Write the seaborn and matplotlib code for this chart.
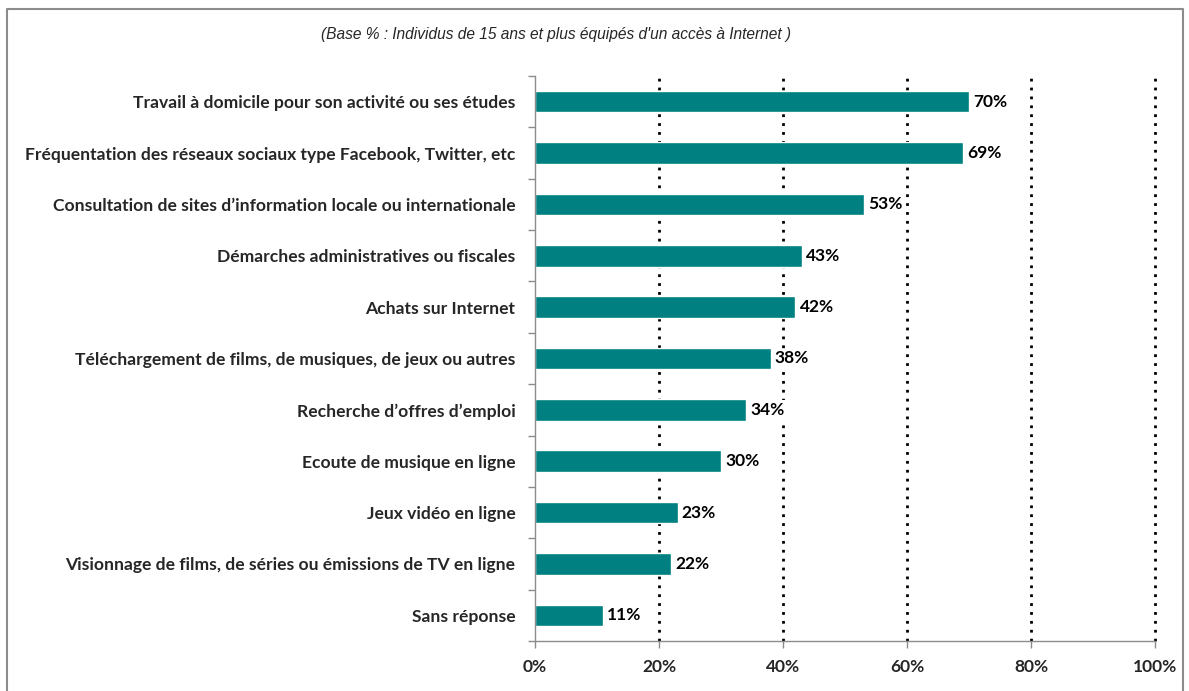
import matplotlib
matplotlib.use("Agg")
import matplotlib.pyplot as plt
import seaborn as sns
import pandas as pd

categories = [
    "Travail à domicile pour son activité ou ses études",
    "Fréquentation des réseaux sociaux type Facebook, Twitter, etc",
    "Consultation de sites d\u2019information locale ou internationale",
    "Démarches administratives ou fiscales",
    "Achats sur Internet",
    "Téléchargement de films, de musiques, de jeux ou autres",
    "Recherche d\u2019offres d\u2019emploi",
    "Ecoute de musique en ligne",
    "Jeux vidéo en ligne",
    "Visionnage de films, de séries ou émissions de TV en ligne",
    "Sans réponse",
]
values = [70, 69, 53, 43, 42, 38, 34, 30, 23, 22, 11]
xticks = [0, 20, 40, 60, 80, 100]
subtitle = "(Base % : Individus de 15 ans et plus équipés d'un accès à Internet )"

df = pd.DataFrame({"cat": categories, "val": values})

sns.set_style("white")
plt.rcParams["font.family"] = ["Lato", "DejaVu Sans"]

fig = plt.figure(figsize=(11.89, 6.91), dpi=100)
ax = fig.add_axes([535 / 1189, 1 - 641 / 691, 620 / 1189, 565 / 691])

sns.barplot(data=df, x="val", y="cat", color="#008080", saturation=1,
            width=0.42, ax=ax, orient="h")

ax.set_xlim(0, 100)
ax.set_ylim(len(categories) - 0.5, -0.5)
ax.set_xlabel("")
ax.set_ylabel("")

# dotted vertical gridlines
for t in xticks[1:]:
    ax.axvline(t, color="black", linestyle=(0, (1, 2.2)), linewidth=2,
               zorder=0, clip_on=False)

ax.set_xticks(xticks)
ax.set_xticklabels([f"{t}%" for t in xticks], fontsize=12.5, fontweight="bold")
ax.tick_params(axis="x", length=5, width=1, color="#8c8c8c", direction="out",
               pad=8, bottom=True)

ax.set_yticks(range(len(categories)))
ax.set_yticklabels(categories, fontsize=12.6, fontweight="bold")
ax.tick_params(axis="y", which="major", length=0, pad=14)
ax.set_yticks([i - 0.5 for i in range(len(categories) + 1)], minor=True)
ax.tick_params(axis="y", which="minor", length=5, width=1, color="#8c8c8c",
               direction="out", left=True)

for s in ["top", "right"]:
    ax.spines[s].set_visible(False)
for s in ["left", "bottom"]:
    ax.spines[s].set_color("#8c8c8c")
    ax.spines[s].set_linewidth(1)

for i, v in enumerate(values):
    ax.annotate(f"{v}%", xy=(v, i), xytext=(3, 0), textcoords="offset points",
                va="center", ha="left", fontsize=12.5, fontweight="bold",
                color="black",
                bbox=dict(boxstyle="square,pad=0.1", fc="white", ec="none"))

fig.text(556 / 1189, 1 - 35 / 691, subtitle, ha="center", va="center",
         fontsize=11.2, style="italic", family=["Liberation Sans", "DejaVu Sans"])

# outer frame (open at the bottom)
fig.add_artist(plt.Line2D([7 / 1189, 7 / 1189, 1183 / 1189, 1183 / 1189],
                          [0, 1 - 9 / 691, 1 - 9 / 691, 0],
                          transform=fig.transFigure, color="#8c8c8c",
                          linewidth=1.5))

fig.savefig("out.png", dpi=100)
